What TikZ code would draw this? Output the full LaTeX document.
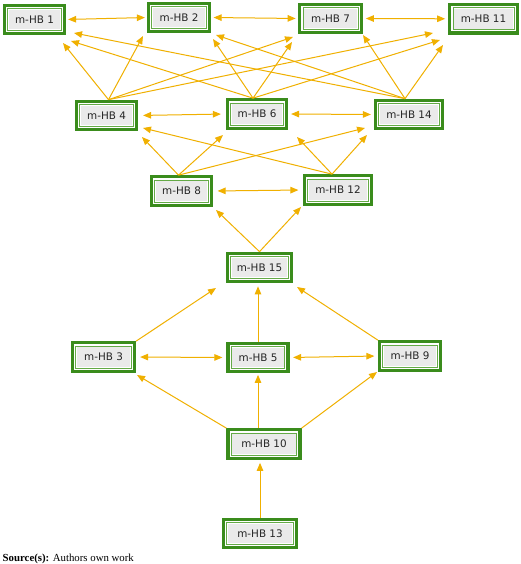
\documentclass[tikz,border=0pt]{standalone}
\usepackage{fontspec}
\setmainfont{Liberation Serif}
\newfontfamily\nodefont{DejaVu Sans}
\usetikzlibrary{arrows.meta,calc}
\definecolor{hbgreen}{RGB}{58,140,28}
\definecolor{hbinner}{RGB}{100,170,70}
\definecolor{hbgrey}{RGB}{234,234,234}
\definecolor{hborange}{RGB}{240,176,0}
\tikzset{
  hbnode/.style={draw=hbgreen, line width=3.2pt, fill=white,
    minimum height=28.5pt, minimum width=#1, inner sep=0pt,
    font=\nodefont\fontsize{10.4}{12}\selectfont, text=black!85,
    path picture={
      \draw[hbinner, line width=0.8pt, fill=white]
        ([shift={(3.3pt,3.3pt)}]path picture bounding box.south west) rectangle
        ([shift={(-3.3pt,-3.3pt)}]path picture bounding box.north east);
      \fill[hbgrey]
        ([shift={(4.4pt,4.4pt)}]path picture bounding box.south west) rectangle
        ([shift={(-4.4pt,-4.4pt)}]path picture bounding box.north east);
    }},
  hbnode/.default=60pt,
  arr/.style={draw=hborange, line width=1pt, -{Triangle[length=8pt,width=6.5pt]}},
  darr/.style={draw=hborange, line width=1pt,
    {Triangle[length=8pt,width=6.5pt]}-{Triangle[length=8pt,width=6.5pt]}},
}
\begin{document}
\begin{tikzpicture}[x=1pt,y=-1pt]
\fill[white] (0,0) rectangle (520,564);
\useasboundingbox (0,0) rectangle (520,564);

% row 1
\node[hbnode=60pt]   (HB1)  at (34.5,19.5)  {m-HB 1};
\node[hbnode=61pt]   (HB2)  at (179,17.5)   {m-HB 2};
\node[hbnode=61.5pt] (HB7)  at (330.5,18.5) {m-HB 7};
\node[hbnode=67.5pt] (HB11) at (483.5,18.8) {m-HB 11};
% row 2
\node[hbnode=60pt]   (HB4)  at (106.5,115.5) {m-HB 4};
\node[hbnode=59pt]   (HB6)  at (257,114)     {m-HB 6};
\node[hbnode=67pt]   (HB14) at (409,114.5)   {m-HB 14};
% row 3
\node[hbnode=60pt]   (HB8)  at (181.5,191)   {m-HB 8};
\node[hbnode=67pt]   (HB12) at (338,190)     {m-HB 12};
% row 4
\node[hbnode=64pt]   (HB15) at (259.5,267.5) {m-HB 15};
% row 5
\node[hbnode=62pt]   (HB3)  at (103.5,357)   {m-HB 3};
\node[hbnode=60pt]   (HB5)  at (258,357.5)   {m-HB 5};
\node[hbnode=61pt]   (HB9)  at (410,356)     {m-HB 9};
% row 6, 7
\node[hbnode=72pt]   (HB10) at (264,444)     {m-HB 10};
\node[hbnode=73pt]   (HB13) at (260,533.5)   {m-HB 13};

% horizontal double arrows
\draw[darr, shorten <=2pt, shorten >=2pt]     (HB1.east) -- (HB2.west);
\draw[darr, shorten <=2.5pt, shorten >=2.5pt] (HB2.east) -- (HB7.west);
\draw[darr, shorten <=3pt, shorten >=3pt]     (HB7.east) -- (HB11.west);
\draw[darr, shorten <=5pt, shorten >=5pt]     (HB4.east) -- (HB6.west);
\draw[darr, shorten <=3pt, shorten >=3pt]     (HB6.east) -- (HB14.west);
\draw[darr, shorten <=4.5pt, shorten >=4.5pt] (HB8.east) -- (HB12.west);
\draw[darr, shorten <=4pt, shorten >=4pt]     (HB3.east) -- (HB5.west);
\draw[darr, shorten <=3.5pt, shorten >=3.5pt] (HB5.east) -- (HB9.west);

% row 2 -> row 1
\draw[arr] ([xshift=2pt]HB4.north) -- ([shift={(28.5,23.5)}]HB1.center);
\draw[arr] ([xshift=2pt]HB4.north) -- ([shift={(-36,18.5)}]HB2.center);
\draw[arr] ([xshift=2pt]HB4.north) -- ([shift={(-37.5,18.5)}]HB7.center);
\draw[arr] ([xshift=2pt]HB4.north) -- ([shift={(-50.5,14.2)}]HB11.center);
\draw[arr] ([xshift=-4pt]HB6.north) -- ([shift={(36.5,21.5)}]HB1.center);
\draw[arr] ([xshift=-4pt]HB6.north) -- ([shift={(34,21.5)}]HB2.center);
\draw[arr] ([xshift=-4pt]HB6.north) -- ([shift={(-38.5,23.5)}]HB7.center);
\draw[arr] ([xshift=-4pt]HB6.north) -- ([shift={(-43.5,21.2)}]HB11.center);
\draw[arr] ([xshift=-4pt]HB14.north) -- ([shift={(39.5,13.5)}]HB1.center);
\draw[arr] ([xshift=-4pt]HB14.north) -- ([shift={(37,17.5)}]HB2.center);
\draw[arr] ([xshift=-4pt]HB14.north) -- ([shift={(32.5,16.5)}]HB7.center);
\draw[arr] ([xshift=-4pt]HB14.north) -- ([shift={(-40.5,26.2)}]HB11.center);

% row 3 -> row 2
\draw[arr] ([xshift=-3pt]HB8.north) -- ([shift={(35.5,21.5)}]HB4.center);
\draw[arr] ([xshift=-3pt]HB8.north) -- ([shift={(-34,21)}]HB6.center);
\draw[arr] ([xshift=-3pt]HB8.north) -- ([shift={(-44,13.5)}]HB14.center);
\draw[arr] ([xshift=-6pt]HB12.north) -- ([shift={(36.5,12.5)}]HB4.center);
\draw[arr] ([xshift=-6pt]HB12.north) -- ([shift={(40,23)}]HB6.center);
\draw[arr] ([xshift=-6pt]HB12.north) -- ([shift={(-42,20.5)}]HB14.center);

% HB15 -> row 3
\draw[arr] (HB15.north) -- ([shift={(34.5,19)}]HB8.center);
\draw[arr] (HB15.north) -- ([shift={(-37,17)}]HB12.center);

% row 5 -> HB15
\draw[arr] (HB3.north east) -- ([shift={(-43.5,20.5)}]HB15.center);
\draw[arr, shorten >=3pt] (HB5.north) -- (HB5.north |- HB15.south);
\draw[arr] (HB9.north west) -- ([shift={(37.5,19.5)}]HB15.center);

% HB10 -> row 5
\draw[arr] (HB10.north west) -- ([shift={(33.5,18)}]HB3.center);
\draw[arr, shorten >=1.5pt] (HB5.south |- HB10.north) -- (HB5.south);
\draw[arr] (HB10.north east) -- ([shift={(-33,16)}]HB9.center);

% HB13 -> HB10
\draw[arr, shorten >=3pt] (HB13.north) -- (HB13.north |- HB10.south);

\node[anchor=base west, inner sep=0pt, font=\fontsize{10.8}{13}\selectfont] (src) at (2.5,561) {\textbf{Source(s):} Authors own work};
\end{tikzpicture}
\end{document}
